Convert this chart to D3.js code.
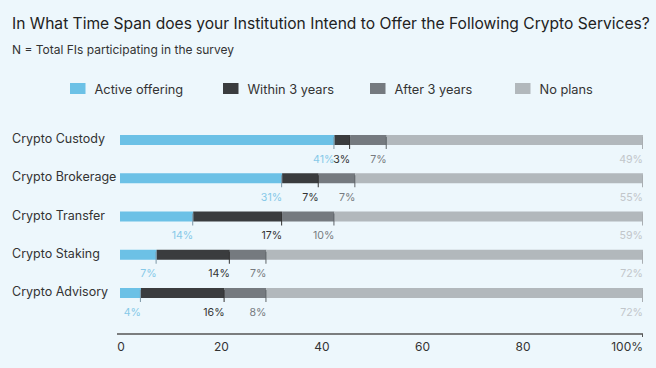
<!DOCTYPE html>
<html>
<head>
<meta charset="utf-8">
<script src="https://cdn.jsdelivr.net/npm/d3@7"></script>
<style>
  html, body { margin: 0; padding: 0; background: #edf7fc; }
  svg { display: block; font-family: Inter, "Noto Sans", sans-serif; }
</style>
</head>
<body>
<svg id="chart" width="656" height="368"></svg>
<script>
const categories = ["Crypto Custody", "Crypto Brokerage", "Crypto Transfer", "Crypto Staking", "Crypto Advisory"];
const seriesNames = ["Active offering", "Within 3 years", "After 3 years", "No plans"];
const activeOffering = [41, 31, 14, 7, 4];
const within3Years = [3, 7, 17, 14, 16];
const after3Years = [7, 7, 10, 7, 8];
const noPlans = [49, 55, 59, 72, 72];
const tickValues = [0, 20, 40, 60, 80, 100];
const tickLabels = ["0", "20", "40", "60", "80", "100%"];

const barColors = ["#6cc1e6", "#3a3c3e", "#757a7f", "#b2b8bc"];
const labelColors = ["#86c9e8", "#333333", "#777b80", "#c2c6ca"];
const tickColors = ["#7d97a6", "#333333", "#5f6468", "#a9aeb2"];

const svg = d3.select("#chart");
svg.append("rect").attr("width", 656).attr("height", 368).attr("fill", "#edf7fc");

svg.append("text").attr("x", 12).attr("y", 29)
  .attr("font-size", 15.6).attr("fill", "#222")
  .text("In What Time Span does your Institution Intend to Offer the Following Crypto Services?");
svg.append("text").attr("x", 12).attr("y", 54)
  .attr("font-size", 12).attr("fill", "#333")
  .text("N = Total FIs participating in the survey");

// Legend
const legendX = [70, 223, 370, 515];
const legend = svg.append("g");
seriesNames.forEach((name, i) => {
  legend.append("rect").attr("x", legendX[i]).attr("y", 83).attr("width", 15.5).attr("height", 11)
    .attr("fill", barColors[i]);
  legend.append("text").attr("x", legendX[i] + 24.5).attr("y", 93.5)
    .attr("font-size", 12.8).attr("fill", "#333").text(name);
});

const x = d3.scaleLinear().domain([0, 100]).range([120, 643]);
const xLabel = d3.scaleLinear().domain([0, 80]).range([121, 523]);
const y = d3.scalePoint().domain(categories).range([140, 293]);
const barH = 10;

const rows = categories.map((c, i) => {
  const vals = [activeOffering[i], within3Years[i], after3Years[i], noPlans[i]];
  let acc = 0;
  return { cat: c, segs: vals.map((v, k) => { const s = { k, v, x0: acc, x1: acc + v }; acc += v; return s; }) };
});

const g = svg.append("g");
rows.forEach(r => {
  const cy = y(r.cat);
  g.append("text").attr("x", 12).attr("y", cy + 3)
    .attr("font-size", 12.5).attr("fill", "#333").text(r.cat);
  g.selectAll(null).data(r.segs).enter().append("rect")
    .attr("x", d => x(d.x0)).attr("y", cy - barH / 2)
    .attr("width", d => x(d.x1) - x(d.x0)).attr("height", barH)
    .attr("fill", d => barColors[d.k]);
  g.selectAll(null).data(r.segs).enter().append("line")
    .attr("x1", d => x(d.x1) - 0.5).attr("x2", d => x(d.x1) - 0.5)
    .attr("y1", cy - barH / 2 + 2).attr("y2", cy + barH / 2 + 4)
    .attr("stroke", d => tickColors[d.k]).attr("stroke-width", 1);
  g.selectAll(null).data(r.segs).enter().append("text")
    .attr("x", d => x(d.x1)).attr("y", cy + barH / 2 + 17.5)
    .attr("text-anchor", "end").attr("font-size", 10.6)
    .attr("fill", d => labelColors[d.k]).text(d => d.v + "%");
});

// Axis
const ax = svg.append("g");
ax.append("line").attr("x1", 117).attr("x2", 643).attr("y1", 334).attr("y2", 334)
  .attr("stroke", "#555").attr("stroke-width", 1.3);
ax.append("line").attr("x1", x(100) - 0.5).attr("x2", x(100) - 0.5).attr("y1", 334).attr("y2", 337)
  .attr("stroke", "#555").attr("stroke-width", 1);
ax.selectAll(null).data(tickValues).enter().append("text")
  .attr("x", (d, i) => i === tickValues.length - 1 ? x(d) : xLabel(d))
  .attr("y", 351)
  .attr("text-anchor", (d, i) => i === tickValues.length - 1 ? "end" : "middle")
  .attr("font-size", 12).attr("fill", "#333")
  .text((d, i) => tickLabels[i]);
</script>
</body>
</html>
